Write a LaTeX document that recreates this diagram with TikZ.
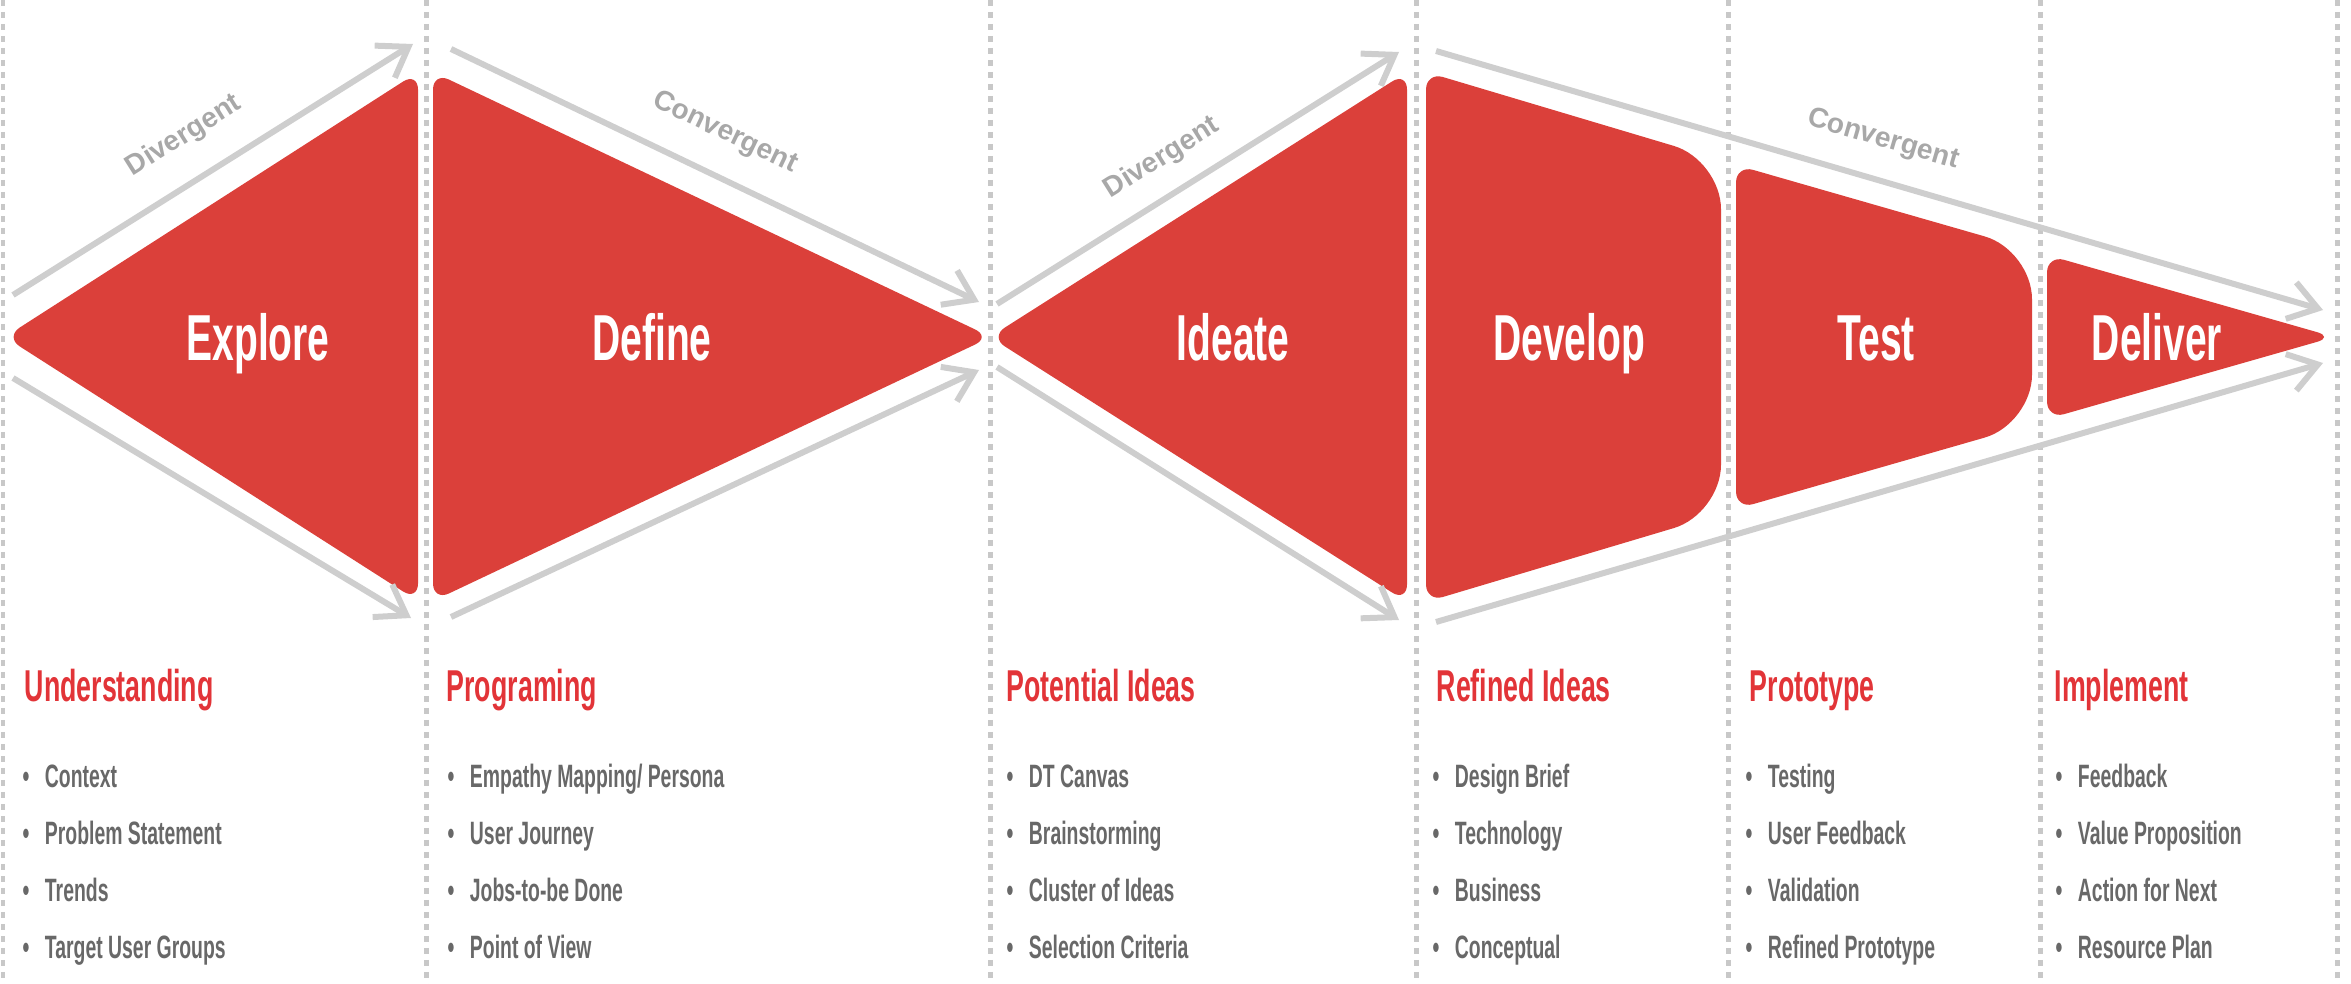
\documentclass[tikz,border=0pt]{standalone}
\usepackage{fontspec}
\usetikzlibrary{arrows.meta}
\newfontfamily\dtfont[FakeStretch=0.6]{Liberation Sans}
\newfontfamily\dtlabelfont{Liberation Sans}
\definecolor{phasered}{RGB}{219,64,58}
\definecolor{headred}{RGB}{226,52,56}
\definecolor{flowgray}{RGB}{206,206,206}
\definecolor{labelgray}{RGB}{168,168,168}
\definecolor{itemgray}{RGB}{104,104,104}
\definecolor{guidegray}{RGB}{200,200,200}
\newcommand\bul{\textbullet\hspace{4.4pt}}
\begin{document}
\begin{tikzpicture}[
x=0.1mm,y=-0.1mm,
phase/.style={text=white,inner sep=0,anchor=base,font=\dtfont\bfseries\fontsize{18.5}{22}\selectfont},
head/.style={text=headred,inner sep=0,anchor=base west,font=\dtfont\bfseries\fontsize{12.7}{14}\selectfont},
item/.style={text=itemgray,inner sep=0,anchor=base west,font=\dtfont\bfseries\fontsize{9.2}{11}\selectfont},
flow/.style={draw=flowgray,line width=0.6mm,-{Straight Barb[length=2.8mm,width=3.8mm]}},
flowlabel/.style={text=labelgray,inner sep=0,font=\dtlabelfont\bfseries\fontsize{8}{10}\selectfont},
guide/.style={draw=guidegray,line width=0.5mm,dash pattern=on 0.6mm off 0.6mm}
]
\useasboundingbox (0,0) rectangle (2351,984);
\foreach \x in {3,426,990,1416,1728,2040,2337}
\draw[guide] (\x,0) -- (\x,984);

\fill[phasered,rounded corners=5pt] (5,337) -- (418,72) -- (418,601) -- cycle;
\fill[phasered,rounded corners=5pt] (433,72) -- (991,337) -- (433,601) -- cycle;
\fill[phasered,rounded corners=5pt] (990,337) -- (1407,72) -- (1407,602) -- cycle;
\fill[phasered,rounded corners=5pt] (1426,72) [rounded corners=14pt] -- (1721,160) -- (1721,514) [rounded corners=5pt] -- (1426,602) -- cycle;
\fill[phasered,rounded corners=5pt] (1736,165) [rounded corners=14pt] -- (2032,250) -- (2032,424) [rounded corners=5pt] -- (1736,509) -- cycle;
\fill[phasered,rounded corners=5pt] (2047,255) -- (2334,337) -- (2047,419) -- cycle;

\coordinate (d1s) at (13,295);
\coordinate (d1e) at (413,44);
\coordinate (d2s) at (13,378);
\coordinate (d2e) at (411,618);
\coordinate (c1s) at (451,49);
\coordinate (c1e) at (979,302);
\coordinate (c2s) at (451,617);
\coordinate (c2e) at (979,370);
\coordinate (d3s) at (997,304);
\coordinate (d3e) at (1399,52);
\coordinate (d4s) at (997,367);
\coordinate (d4e) at (1399,620);
\coordinate (c3s) at (1436,51);
\coordinate (c3e) at (2323,310);
\coordinate (c4s) at (1436,622);
\coordinate (c4e) at (2323,363);
\draw[flow] (d1s) -- (d1e);
\draw[flow] (d2s) -- (d2e);
\draw[flow] (c1s) -- (c1e);
\draw[flow] (c2s) -- (c2e);
\draw[flow] (d3s) -- (d3e);
\draw[flow] (d4s) -- (d4e);
\draw[flow] (c3s) -- (c3e);
\draw[flow] (c4s) -- (c4e);

\node[flowlabel,rotate=32.2] (divergent1) at (184,136) {Divergent};
\node[flowlabel,rotate=-25.6] (convergent1) at (725,133) {Convergent};
\node[flowlabel,rotate=32.1] (divergent2) at (1162,158) {Divergent};
\node[flowlabel,rotate=-16.3] (convergent2) at (1883,140) {Convergent};

\node[phase] (explore) at (258,360) {Explore};
\node[phase] (define) at (652,360) {Define};
\node[phase] (ideate) at (1233,360) {Ideate};
\node[phase] (develop) at (1569,360) {Develop};
\node[phase] (test) at (1876,360) {Test};
\node[phase] (deliver) at (2157,360) {Deliver};

\node[head] (understanding) at (24,701) {Understanding};
\node[head] (programing) at (446,701) {Programing};
\node[head] (potential) at (1006,701) {Potential Ideas};
\node[head] (refined) at (1436,701) {Refined Ideas};
\node[head] (prototype) at (1749,701) {Prototype};
\node[head] (implement) at (2054,701) {Implement};

\node[item] (context) at (22,787) {\bul Context};
\node[item] (problem) at (22,844) {\bul Problem Statement};
\node[item] (trends) at (22,901) {\bul Trends};
\node[item] (targetusers) at (22,958) {\bul Target User Groups};
\node[item] (empathy) at (447,787) {\bul Empathy Mapping/ Persona};
\node[item] (journey) at (447,844) {\bul User Journey};
\node[item] (jobs) at (447,901) {\bul Jobs-to-be Done};
\node[item] (pov) at (447,958) {\bul Point of View};
\node[item] (canvas) at (1006,787) {\bul DT Canvas};
\node[item] (brainstorm) at (1006,844) {\bul Brainstorming};
\node[item] (cluster) at (1006,901) {\bul Cluster of Ideas};
\node[item] (criteria) at (1006,958) {\bul Selection Criteria};
\node[item] (brief) at (1432,787) {\bul Design Brief};
\node[item] (technology) at (1432,844) {\bul Technology};
\node[item] (business) at (1432,901) {\bul Business};
\node[item] (conceptual) at (1432,958) {\bul Conceptual};
\node[item] (testing) at (1745,787) {\bul Testing};
\node[item] (userfeedback) at (1745,844) {\bul User Feedback};
\node[item] (validation) at (1745,901) {\bul Validation};
\node[item] (refinedproto) at (1745,958) {\bul Refined Prototype};
\node[item] (feedback) at (2055,787) {\bul Feedback};
\node[item] (valueprop) at (2055,844) {\bul Value Proposition};
\node[item] (actionnext) at (2055,901) {\bul Action for Next};
\node[item] (resourceplan) at (2055,958) {\bul Resource Plan};
\end{tikzpicture}
\end{document}
